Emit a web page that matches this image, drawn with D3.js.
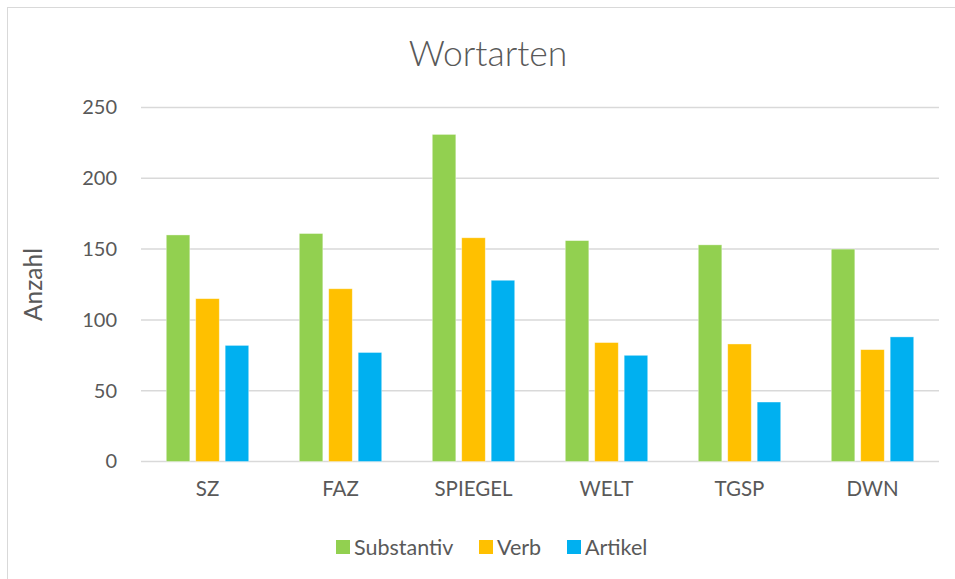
<!DOCTYPE html>
<html>
<head>
<meta charset="utf-8">
<script src="https://cdn.jsdelivr.net/npm/d3@7"></script>
<style>
  body { margin: 0; background: #fff; font-family: Lato, "Open Sans", sans-serif; }
  svg text { fill: #595959; }
</style>
</head>
<body>
<div id="chart"></div>
<script>
// data
const categories = ['SZ', 'FAZ', 'SPIEGEL', 'WELT', 'TGSP', 'DWN'];
const seriesNames = ['Substantiv', 'Verb', 'Artikel'];
const substantiv = [160, 161, 231, 156, 153, 150];
const verb = [115, 122, 158, 84, 83, 79];
const artikel = [82, 77, 128, 75, 42, 88];
const yTicks = [0, 50, 100, 150, 200, 250];
const colors = ['#92D050', '#FFC000', '#00B0F0'];

const values = [substantiv, verb, artikel];
const data = categories.map((c, i) => ({
  cat: c,
  vals: seriesNames.map((s, j) => ({series: s, value: values[j][i]}))
}));

const W = 955, H = 579;
const margin = {top: 107.5, right: 16, bottom: 117.5, left: 141};
const width = W - margin.left - margin.right;
const height = H - margin.top - margin.bottom;

const svg = d3.select('#chart')
  .append('svg')
  .attr('width', W)
  .attr('height', H);

// chart frame
svg.append('rect')
  .attr('x', 7.5).attr('y', 7.5)
  .attr('width', W).attr('height', H)
  .attr('fill', 'none')
  .attr('stroke', '#d9d9d9')
  .attr('stroke-width', 1);

svg.append('text')
  .attr('x', 488)
  .attr('y', 66)
  .attr('text-anchor', 'middle')
  .style('font-size', '35.5px')
  .style('font-weight', 300)
  .text('Wortarten');

const g = svg.append('g')
  .attr('transform', `translate(${margin.left},${margin.top})`);

const y = d3.scaleLinear()
  .domain([0, 250])
  .range([height, 0]);

const x = d3.scaleBand()
  .domain(categories)
  .range([0, width])
  .padding(0);

const bw = x.bandwidth();
const xs = d3.scaleBand()
  .domain(seriesNames)
  .range([bw * 0.19, bw * 0.81])
  .paddingInner(0.2)
  .paddingOuter(0);

// gridlines
g.append('g')
  .selectAll('line')
  .data(yTicks)
  .join('line')
  .attr('x1', 0)
  .attr('x2', width)
  .attr('y1', d => y(d))
  .attr('y2', d => y(d))
  .attr('stroke', '#d9d9d9')
  .attr('stroke-width', 1.5);

// y axis labels
const yAxis = g.append('g')
  .call(d3.axisLeft(y).tickValues(yTicks).tickSize(0).tickPadding(24));
yAxis.select('.domain').remove();
yAxis.selectAll('text')
  .style('font-size', '20px')
  .style('font-family', 'Lato, sans-serif')
  .attr('fill', '#595959');

// x axis labels
const xAxis = g.append('g')
  .attr('transform', `translate(0,${height})`)
  .call(d3.axisBottom(x).tickSize(0).tickPadding(20));
xAxis.select('.domain').remove();
xAxis.selectAll('text')
  .style('font-size', '20.5px')
  .style('font-family', 'Lato, sans-serif')
  .attr('fill', '#595959');

g.append('text')
  .attr('transform', `translate(${-108},${height / 2})rotate(-90)`)
  .attr('text-anchor', 'middle')
  .attr('dy', '0.35em')
  .style('font-size', '24.5px')
  .text('Anzahl');

// bars
g.selectAll('.grp')
  .data(data)
  .join('g')
  .attr('class', 'grp')
  .attr('transform', d => `translate(${x(d.cat)},0)`)
  .selectAll('rect')
  .data(d => d.vals)
  .join('rect')
  .attr('x', d => xs(d.series))
  .attr('y', d => y(d.value))
  .attr('width', xs.bandwidth())
  .attr('height', d => height - y(d.value))
  .attr('fill', (d, i) => colors[i])
  .attr('stroke', '#fff')
  .attr('stroke-opacity', 0.5)
  .attr('stroke-width', 0.75);

// legend
const legendX = [336, 479, 567];
const legend = svg.append('g')
  .selectAll('g')
  .data(seriesNames)
  .join('g')
  .attr('transform', (d, i) => `translate(${legendX[i]},540)`);
legend.append('rect')
  .attr('width', 14)
  .attr('height', 14)
  .attr('fill', (d, i) => colors[i]);
legend.append('text')
  .attr('x', 18)
  .attr('y', 7)
  .attr('dy', '0.35em')
  .style('font-size', '21.5px')
  .text(d => d);
</script>
</body>
</html>
